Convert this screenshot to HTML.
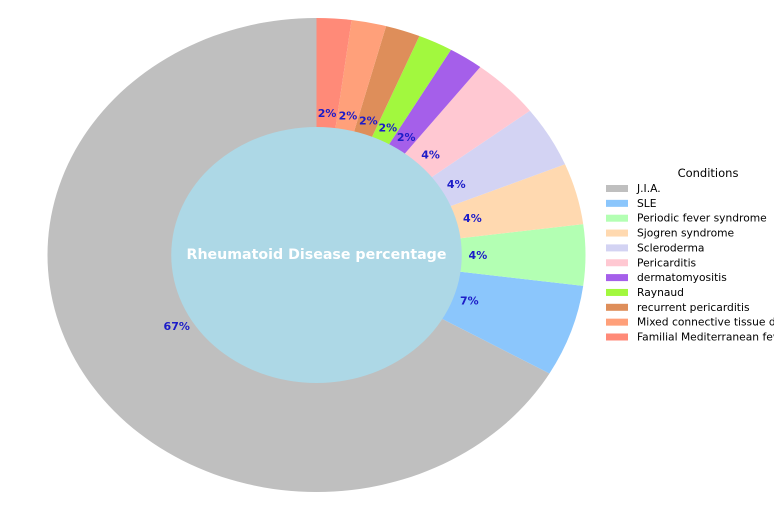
<!DOCTYPE html>
<html><head><meta charset="utf-8"><style>
html,body{margin:0;padding:0;background:#fff;width:774px;height:511px;overflow:hidden}
svg{display:block}
text{font-family:"DejaVu Sans","Liberation Sans",sans-serif}
</style></head><body>
<svg id="s" width="774" height="511" viewBox="0 0 774 511" xmlns="http://www.w3.org/2000/svg">
<g id="pie"></g>
<text x="316.5" y="259" fill="#fff" font-weight="bold" font-size="14.2" text-anchor="middle">Rheumatoid Disease percentage</text>
<text x="708" y="177" font-size="11.5" text-anchor="middle" fill="#000">Conditions</text>
<g id="leg" font-size="10.7" fill="#000"></g>
</svg>
<script>
var data=[["J.I.A.",32,"#bfbfbf","67%"],["SLE",3,"#8bc6fc","7%"],["Periodic fever syndrome",2,"#b3ffb3","4%"],["Sjogren syndrome",2,"#ffd9b0","4%"],["Scleroderma",2,"#d3d3f3","4%"],["Pericarditis",2,"#ffc8d2","4%"],["dermatomyositis",1,"#a55fea","2%"],["Raynaud",1,"#a2f83e","2%"],["recurrent pericarditis",1,"#de8e5a","2%"],["Mixed connective tissue disease",1,"#ffa07a","2%"],["Familial Mediterranean fever",1,"#ff8a78","2%"]];
var cx=316.5,cy=255,rx=269,ry=237,ri=0.54,tot=48,a=90;
var ns="http://www.w3.org/2000/svg",pie=document.getElementById("pie"),leg=document.getElementById("leg");
function P(r,ang){var t=ang*Math.PI/180;return [cx+rx*r*Math.cos(t),cy-ry*r*Math.sin(t)];}
var labels=[];
data.forEach(function(d,i){
 var sw=d[1]/tot*360,a2=a+sw;
 var p1=P(1,a),p2=P(1,a2);
 var path=document.createElementNS(ns,"path");
 path.setAttribute("d","M"+cx+","+cy+"L"+p1+"A"+rx+","+ry+" 0 "+(sw>180?1:0)+" 0 "+p2+"Z");
 path.setAttribute("fill",d[2]);pie.appendChild(path);
 var m=P(0.6,a+sw/2);labels.push([m,d[3]]);
 a=a2;
 var y=188+i*14.85;
 var r=document.createElementNS(ns,"rect");r.setAttribute("x",606);r.setAttribute("y",y-3);r.setAttribute("width",22);r.setAttribute("height",7);r.setAttribute("fill",d[2]);leg.appendChild(r);
 var t=document.createElementNS(ns,"text");t.setAttribute("x",637);t.setAttribute("y",y+4);t.textContent=d[0];leg.appendChild(t);
});
var e=document.createElementNS(ns,"ellipse");e.setAttribute("cx",cx);e.setAttribute("cy",cy);e.setAttribute("rx",rx*ri);e.setAttribute("ry",ry*ri);e.setAttribute("fill","#add8e6");pie.appendChild(e);
labels.forEach(function(l){var t=document.createElementNS(ns,"text");t.setAttribute("x",l[0][0]);t.setAttribute("y",l[0][1]+4);t.setAttribute("text-anchor","middle");t.setAttribute("font-size","11");t.setAttribute("font-weight","bold");t.setAttribute("fill","#1c1cc8");t.textContent=l[1];pie.appendChild(t);});
</script>
</body></html>
